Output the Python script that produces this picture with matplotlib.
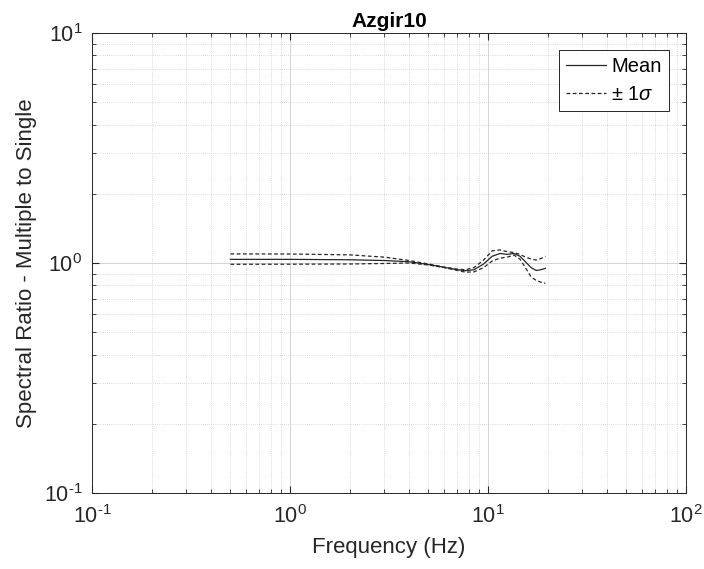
import matplotlib
matplotlib.use('Agg')
import matplotlib.pyplot as plt
from matplotlib.ticker import FuncFormatter
import numpy as np

plt.rcParams['font.family'] = ['Liberation Sans', 'DejaVu Sans']
plt.rcParams['mathtext.fontset'] = 'custom'
plt.rcParams['mathtext.rm'] = 'Liberation Sans'
plt.rcParams['mathtext.it'] = 'Liberation Sans:italic'
plt.rcParams['mathtext.bf'] = 'Liberation Sans:bold'

# frequencies (Hz)
freq = [0.5, 1, 2, 3, 4, 5, 6, 7, 7.7, 8.5, 9.5, 10.5, 11.5, 12.5, 13.5,
        14.5, 15.5, 16.5, 17.5, 18.5, 19.5]
mean = [1.037, 1.037, 1.033, 1.025, 1.012, 0.985, 0.958, 0.935, 0.926, 0.935,
        0.99, 1.07, 1.10, 1.09, 1.10, 1.07, 1.01, 0.955, 0.928, 0.935, 0.948]
upper = [1.095, 1.094, 1.085, 1.06, 1.025, 0.99, 0.96, 0.94, 0.935, 0.955,
         1.03, 1.13, 1.14, 1.12, 1.11, 1.09, 1.06, 1.04, 1.03, 1.045, 1.07]
lower = [0.987, 0.988, 0.99, 0.995, 1.0, 0.98, 0.955, 0.928, 0.912, 0.915,
         0.955, 1.02, 1.05, 1.06, 1.083, 1.04, 0.95, 0.87, 0.84, 0.825, 0.816]

dark = '#262626'

fig = plt.figure(figsize=(7.04, 5.69), dpi=100)
ax = fig.add_axes([0.1307, 0.1336, 0.8437, 0.8084])

ax.plot(freq, mean, color=dark, lw=0.9, label='Mean')
ax.plot(freq, upper, color=dark, lw=0.9, ls=(0, (3, 2)), label=r'$\pm$ 1$\it{\sigma}$')
ax.plot(freq, lower, color=dark, lw=0.9, ls=(0, (3, 2)))

ax.set_xscale('log')
ax.set_yscale('log')
ax.set_xlim(0.1, 100)
ax.set_ylim(0.1, 10)


def pow10(v, pos):
    e = int(round(np.log10(v)))
    return r'$10^{\text{%d}}$' % e


ax.xaxis.set_major_formatter(FuncFormatter(pow10))
ax.yaxis.set_major_formatter(FuncFormatter(pow10))

ax.grid(which='major', color='#d4d4d4', lw=0.7)
ax.grid(which='minor', color='#cfcfcf', lw=0.6, ls=(0, (1, 1.5)))
ax.set_axisbelow(True)
ax.tick_params(which='both', direction='in', top=True, right=True,
               labelsize=15.5, colors=dark)
ax.tick_params(which='major', length=5)
ax.tick_params(which='minor', length=3)
ax.tick_params(axis='x', which='major', pad=9)
ax.tick_params(axis='y', which='major', pad=7)
for s in ax.spines.values():
    s.set_color(dark)
    s.set_linewidth(0.7)

ax.set_xlabel('Frequency (Hz)', fontsize=16, color=dark, labelpad=6)
ax.set_ylabel('Spectral Ratio - Multiple to Single', fontsize=16, color=dark, labelpad=5)
ax.set_title('Azgir10', fontsize=15, fontweight='bold', pad=4)

leg = ax.legend(loc='upper right', fontsize=14.5, fancybox=False, framealpha=1,
                edgecolor=dark, handlelength=2.0, borderaxespad=0.85,
                labelspacing=0.45, handletextpad=0.25, borderpad=0.35)
leg.get_frame().set_linewidth(0.7)

fig.savefig('out.png', dpi=100)
